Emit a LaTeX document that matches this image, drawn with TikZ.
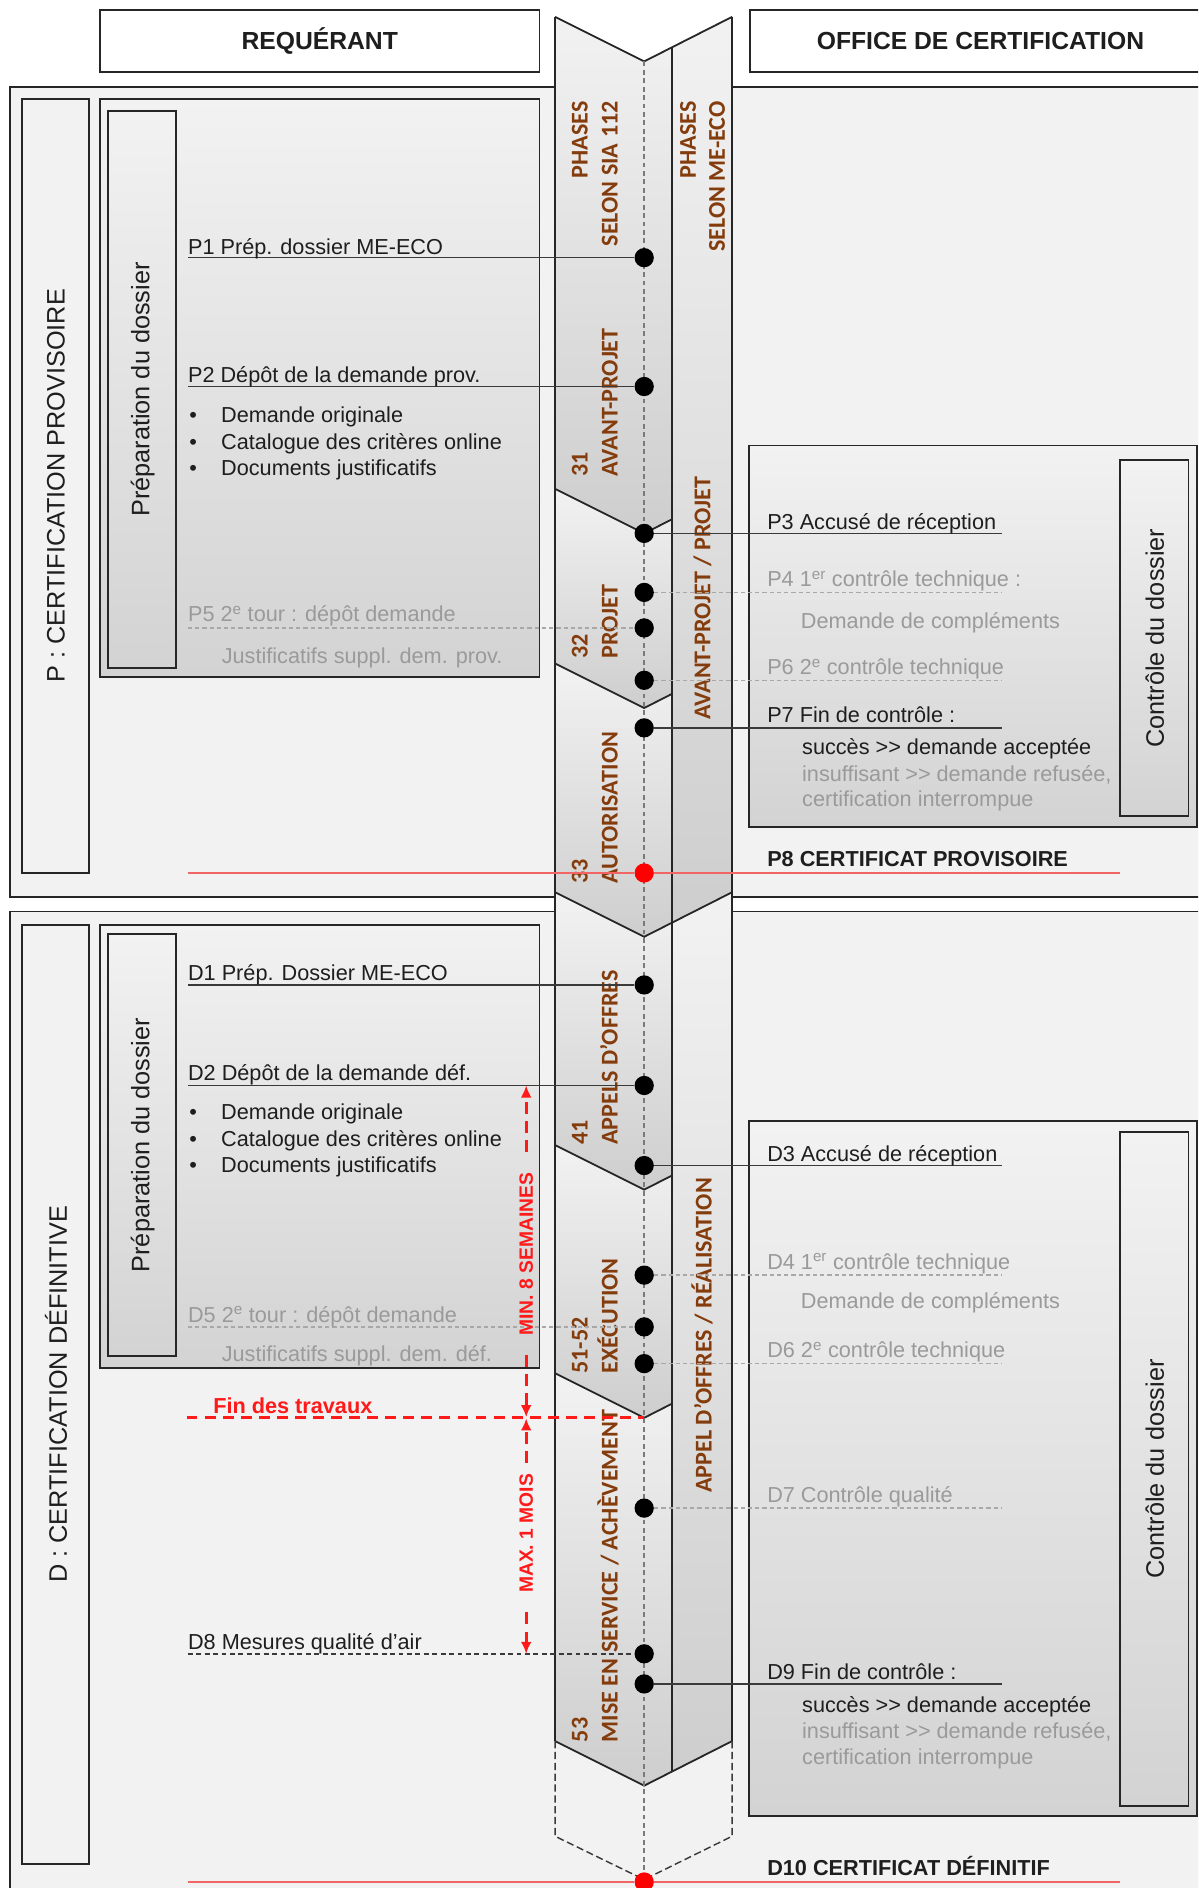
\documentclass[tikz,border=0pt]{standalone}
\usepackage{fontspec}
\setmainfont{Liberation Sans}
\newfontfamily\phasefont{Carlito}
\usetikzlibrary{arrows.meta}
\definecolor{bordc}{HTML}{262626}
\definecolor{secfill}{HTML}{F2F2F2}
\definecolor{gtop}{HTML}{F2F2F2}
\definecolor{gbot}{HTML}{D3D3D3}
\definecolor{segbot}{HTML}{CECECE}
\definecolor{txtc}{HTML}{1E1E1E}
\definecolor{graytxt}{HTML}{9A9A9A}
\definecolor{graydash}{HTML}{A8A8A8}
\definecolor{linec}{HTML}{3A3A3A}
\definecolor{centc}{HTML}{7A7A7A}
\definecolor{brn}{HTML}{843C0C}
\definecolor{redthin}{HTML}{F26565}
\definecolor{redc}{HTML}{FF1A1A}
\tikzset{
  secbox/.style={draw=bordc, line width=1.5pt, fill=secfill},
  gbox/.style={draw=bordc, line width=1.5pt, top color=gtop, bottom color=gbot},
  hdrbox/.style={draw=bordc, line width=1.5pt, fill=white, inner sep=0pt, font=\bfseries\fontsize{20.5}{24}\selectfont, text=txtc},
  txt/.style={anchor=base west, inner sep=0pt, text=txtc, font=\fontsize{18}{21}\selectfont},
  gtxt/.style={txt, text=graytxt},
  btxt/.style={txt, font=\bfseries\fontsize{18}{21}\selectfont},
  vlab/.style={rotate=90, inner sep=0pt, text=txtc, font=\fontsize{21}{24}\selectfont},
  ph/.style={rotate=90, inner sep=0pt, text=brn, font=\phasefont\bfseries\fontsize{20}{24}\selectfont},
  rlab/.style={rotate=90, inner sep=0pt, text=redc, font=\bfseries\fontsize{16}{19}\selectfont},
  dot/.style={circle, fill=black, draw=none, inner sep=0pt, minimum size=16pt},
  rdot/.style={dot, fill=red},
  conn/.style={draw=linec, line width=1.3pt},
  gconn/.style={draw=graydash, line width=1.3pt, dash pattern=on 3.5pt off 2.5pt},
  kconn/.style={draw=linec, line width=1.2pt, dash pattern=on 4pt off 3pt},
  rline/.style={draw=redthin, line width=1.3pt},
  rdash/.style={draw=redc, line width=2.2pt, dash pattern=on 9pt off 6pt},
  rarr/.style={draw=redc, line width=2.2pt, dash pattern=on 10pt off 6pt, -{Latex[length=10pt,width=9pt]}},
  colline/.style={draw=bordc, line width=1.5pt, line join=miter},
  segfill/.style={top color=gtop, bottom color=segbot, draw=none},
  cline/.style={draw=centc, line width=1.2pt, dash pattern=on 4pt off 3pt},
  outl/.style={draw=linec, line width=1.2pt, dash pattern=on 6pt off 3pt},
}
\begin{document}
\begin{tikzpicture}[x=1pt,y=-1pt]
\useasboundingbox (0,0) rectangle (995,1568);
\clip (0,0) rectangle (995,1568);
\fill[white] (0,0) rectangle (995,1568);

% ---------- headers
\node[hdrbox, minimum width=365pt, minimum height=52pt] (hreq) at (265.5,34) {REQUÉRANT};
\node[hdrbox, minimum width=383pt, minimum height=52pt, anchor=west] (hoff) at (622,34) {OFFICE DE CERTIFICATION};

% ---------- section boxes (the phase column is drawn over them)
\draw[secbox] (8,72) rectangle (1010,745);
\draw[secbox] (8,757) rectangle (1010,1610);

% label boxes
\draw[secbox] (18,82) rectangle (74,725);
\node[vlab] (plab) at (46.5,403.5) {P : CERTIFICATION PROVISOIRE};
\draw[secbox] (18,768) rectangle (74,1548);
\node[vlab] (dlab) at (46.5,1158) {D : CERTIFICATION DÉFINITIVE};

% requerant boxes
\draw[gbox] (83,82) rectangle (448,562);
\draw[gbox] (90,92) rectangle (146,555);
\node[vlab] (pprep) at (118.5,323.5) {Préparation du dossier};
\draw[gbox] (83,768) rectangle (448,1136);
\draw[gbox] (90,776) rectangle (146,1126);
\node[vlab] (dprep) at (118.5,951) {Préparation du dossier};

% office boxes
\draw[gbox] (622,370) rectangle (994,687);
\draw[gbox] (930,382) rectangle (987,678);
\node[vlab] (pctl) at (959,530) {Contrôle du dossier};
\draw[gbox] (622,931) rectangle (994,1508);
\draw[gbox] (930,940) rectangle (987,1500);
\node[vlab] (dctl) at (959,1220) {Contrôle du dossier};

% ---------- phase column
\fill[white] (461,14)--(535,51)--(608,14)--(608,757)--(461,757)--cycle;
\fill[segfill] (461,14)--(535,51)--(558,39.3)--(558,431.3)--(535,443)--(461,406)--cycle;
\fill[segfill] (461,406)--(535,443)--(558,431.3)--(558,576.3)--(535,588)--(461,551)--cycle;
\fill[segfill] (461,551)--(535,588)--(558,576.3)--(558,766.3)--(535,778)--(461,741)--cycle;
\fill[segfill] (461,741)--(535,778)--(558,766.3)--(558,976.3)--(535,988)--(461,951)--cycle;
\fill[segfill] (461,951)--(535,988)--(558,976.3)--(558,1165.8)--(535,1177.5)--(461,1140.5)--cycle;
\fill[segfill] (461,1140.5)--(535,1177.5)--(558,1165.8)--(558,1471.3)--(535,1483)--(461,1446)--cycle;
\fill[segfill] (558,39.3)--(608,14)--(608,741)--(558,766.3)--cycle;
\fill[segfill] (558,766.3)--(608,741)--(608,1446)--(558,1471.3)--cycle;
\draw[colline] (461,14)--(461,1446);
\draw[colline] (608,14)--(608,1446);
\draw[colline] (558,39.3)--(558,1471.3);
\draw[colline] (461,14)--(535,51)--(608,14);
\draw[colline] (461,406)--(535,443)--(558,431.3);
\draw[colline] (461,551)--(535,588)--(558,576.3);
\draw[colline] (461,741)--(535,778)--(608,741);
\draw[colline] (461,951)--(535,988)--(558,976.3);
\draw[colline] (461,1140.5)--(535,1177.5)--(558,1165.8);
\draw[colline] (461,1446)--(535,1483)--(608,1446);
% dashed continuation
\draw[outl] (461,1446)--(461,1525)--(535,1561);
\draw[outl] (608,1446)--(608,1525)--(535,1561);

% phase labels
\node[ph, anchor=base east] (sia1) at (488,84) {PHASES};
\node[ph, anchor=base east] (sia2) at (513,84) {SELON SIA 112};
\node[ph, anchor=base east] (meco1) at (578,84) {PHASES};
\node[ph, anchor=base east] (meco2) at (602,84) {SELON ME-ECO};
\node[ph, anchor=base west] (n31) at (488,396) {31};
\node[ph, anchor=base west] (l31) at (513,396) {AVANT-PROJET};
\node[ph, anchor=base west] (n32) at (488,547) {32};
\node[ph, anchor=base west] (l32) at (513,547) {PROJET};
\node[ph, anchor=base west] (n33) at (488,734) {33};
\node[ph, anchor=base west] (l33) at (513,734) {AUTORISATION};
\node[ph, anchor=base west] (n41) at (488,951) {41};
\node[ph, anchor=base west] (l41) at (513,951) {APPELS D’OFFRES};
\node[ph, anchor=base west] (n51) at (488,1141) {51-52};
\node[ph, anchor=base west] (l51) at (513,1141) {EXÉCUTION};
\node[ph, anchor=base west] (n53) at (488,1447) {53};
\node[ph, anchor=base west] (l53) at (513,1447) {MISE EN SERVICE / ACHÈVEMENT};
\node[ph, anchor=base west] (mA) at (590,598) {AVANT-PROJET / PROJET};
\node[ph, anchor=base west] (mB) at (591,1240) {APPEL D’OFFRES / RÉALISATION};

% ---------- center line
\coordinate (ctop) at (535,51);
\coordinate (cbot) at (535,1563);
\draw[cline] (ctop) -- (cbot);

% ---------- coordinates for free ends
\coordinate (p1s) at (156,214);
\coordinate (p2s) at (156,321);
\coordinate (p5s) at (156,521.5);
\coordinate (p3e) at (832,443);
\coordinate (p4e) at (832,492);
\coordinate (p6e) at (832,565);
\coordinate (p7e) at (832,604.5);
\coordinate (p8s) at (156,725);
\coordinate (p8e) at (930,725);
\coordinate (d1s) at (156,818);
\coordinate (d2s) at (156,901.5);
\coordinate (d5s) at (156,1102);
\coordinate (d8s) at (156,1373.5);
\coordinate (d3e) at (832,968);
\coordinate (d4e) at (832,1059);
\coordinate (d6e) at (832,1132.5);
\coordinate (d7e) at (832,1252.5);
\coordinate (d9e) at (832,1398.5);
\coordinate (d10s) at (156,1563);
\coordinate (d10e) at (930,1563);
\coordinate (fdts) at (155,1177);
\coordinate (fdte) at (535,1177);

% ---------- dots
\node[dot] (dp1) at (535,214) {};
\node[dot] (dp2) at (535,321) {};
\node[dot] (dp3) at (535,443) {};
\node[dot] (dp4) at (535,492) {};
\node[dot] (dp5) at (535,521.5) {};
\node[dot] (dp6) at (535,565) {};
\node[dot] (dp7) at (535,604.5) {};
\node[rdot] (dp8) at (535,725) {};
\node[dot] (dd1) at (535,818) {};
\node[dot] (dd2) at (535,901.5) {};
\node[dot] (dd3) at (535,968) {};
\node[dot] (dd4) at (535,1059) {};
\node[dot] (dd5) at (535,1102) {};
\node[dot] (dd6) at (535,1132.5) {};
\node[dot] (dd7) at (535,1252.5) {};
\node[dot] (dd8) at (535,1373.5) {};
\node[dot] (dd9) at (535,1398.5) {};
\node[rdot] (dd10) at (535,1563) {};

% ---------- connectors
\draw[conn] (p1s) -- (dp1);
\draw[conn] (p2s) -- (dp2);
\draw[gconn] (p5s) -- (dp5);
\draw[conn] (dp3) -- (p3e);
\draw[gconn] (dp4) -- (p4e);
\draw[gconn] (dp6) -- (p6e);
\draw[conn] (dp7) -- (p7e);
\draw[rline] (p8s) -- (dp8) -- (p8e);
\draw[conn] (d1s) -- (dd1);
\draw[conn] (d2s) -- (dd2);
\draw[gconn] (d5s) -- (dd5);
\draw[kconn] (d8s) -- (dd8);
\draw[conn] (dd3) -- (d3e);
\draw[gconn] (dd4) -- (d4e);
\draw[gconn] (dd6) -- (d6e);
\draw[gconn] (dd7) -- (d7e);
\draw[conn] (dd9) -- (d9e);
\draw[rline] (d10s) -- (dd10) -- (d10e);
\draw[rdash] (fdts) -- (fdte);

% ---------- texts P
\node[txt] (p1) at (156,211) {P1 Prép. dossier ME-ECO};
\node[txt] (p2) at (156,318) {P2 Dépôt de la demande prov.};
\node[txt] (pb1) at (157,351) {\makebox[26.5pt][l]{•}Demande originale};
\node[txt] (pb2) at (157,373) {\makebox[26.5pt][l]{•}Catalogue des critères online};
\node[txt] (pb3) at (157,395) {\makebox[26.5pt][l]{•}Documents justificatifs};
\node[gtxt] (p5) at (156,516.5) {P5 2\textsuperscript{e} tour : dépôt demande};
\node[gtxt] (p5b) at (184,551) {Justificatifs suppl. dem. prov.};
\node[txt] (p3) at (637,439.5) {P3 Accusé de réception};
\node[gtxt] (p4) at (637,487.5) {P4 1\textsuperscript{er} contrôle technique :};
\node[gtxt] (p4b) at (665,522) {Demande de compléments};
\node[gtxt] (p6) at (637,560.5) {P6 2\textsuperscript{e} contrôle technique};
\node[txt] (p7) at (637,600) {P7 Fin de contrôle :};
\node[txt] (p7a) at (666,627) {succès >{}> demande acceptée};
\node[gtxt] (p7b) at (666,649) {insuffisant >{}> demande refusée,};
\node[gtxt] (p7c) at (666,670) {certification interrompue};
\node[btxt] (p8) at (637,719.5) {P8 CERTIFICAT PROVISOIRE};

% ---------- texts D
\node[txt] (d1) at (156,814) {D1 Prép. Dossier ME-ECO};
\node[txt] (d2) at (156,897) {D2 Dépôt de la demande déf.};
\node[txt] (db1) at (157,930) {\makebox[26.5pt][l]{•}Demande originale};
\node[txt] (db2) at (157,952) {\makebox[26.5pt][l]{•}Catalogue des critères online};
\node[txt] (db3) at (157,974) {\makebox[26.5pt][l]{•}Documents justificatifs};
\node[gtxt] (d5) at (156,1098) {D5 2\textsuperscript{e} tour : dépôt demande};
\node[gtxt] (d5b) at (184,1131) {Justificatifs suppl. dem. déf.};
\node[txt, text=redc, font=\bfseries\fontsize{18}{21}\selectfont] (fdt) at (177,1173.5) {Fin des travaux};
\node[txt] (d8) at (156,1369.5) {D8 Mesures qualité d’air};
\node[txt] (d3) at (637,964.5) {D3 Accusé de réception};
\node[gtxt] (d4) at (637,1054) {D4 1\textsuperscript{er} contrôle technique};
\node[gtxt] (d4b) at (665,1087) {Demande de compléments};
\node[gtxt] (d6) at (637,1127.5) {D6 2\textsuperscript{e} contrôle technique};
\node[gtxt] (d7) at (637,1248) {D7 Contrôle qualité};
\node[txt] (d9) at (637,1394.5) {D9 Fin de contrôle :};
\node[txt] (d9a) at (666,1422.5) {succès >{}> demande acceptée};
\node[gtxt] (d9b) at (666,1444) {insuffisant >{}> demande refusée,};
\node[gtxt] (d9c) at (666,1465) {certification interrompue};
\node[btxt] (d10) at (637,1557.5) {D10 CERTIFICAT DÉFINITIF};

% ---------- duration arrows
\node[rlab] (m8) at (437,1041.5) {MIN. 8 SEMAINES};
\node[rlab] (m1) at (437,1273.5) {MAX. 1 MOIS};
\coordinate (m8top) at (437,901.5);
\coordinate (m8a) at (437,957);
\coordinate (m8b) at (437,1125);
\coordinate (m8bot) at (437,1177);
\coordinate (m1top) at (437,1178);
\coordinate (m1a) at (437,1215);
\coordinate (m1b) at (437,1339);
\coordinate (m1bot) at (437,1373.5);
\draw[rarr] (m8a) -- (m8top);
\draw[rarr] (m8b) -- (m8bot);
\draw[rarr] (m1a) -- (m1top);
\draw[rarr] (m1b) -- (m1bot);
\end{tikzpicture}
\end{document}
